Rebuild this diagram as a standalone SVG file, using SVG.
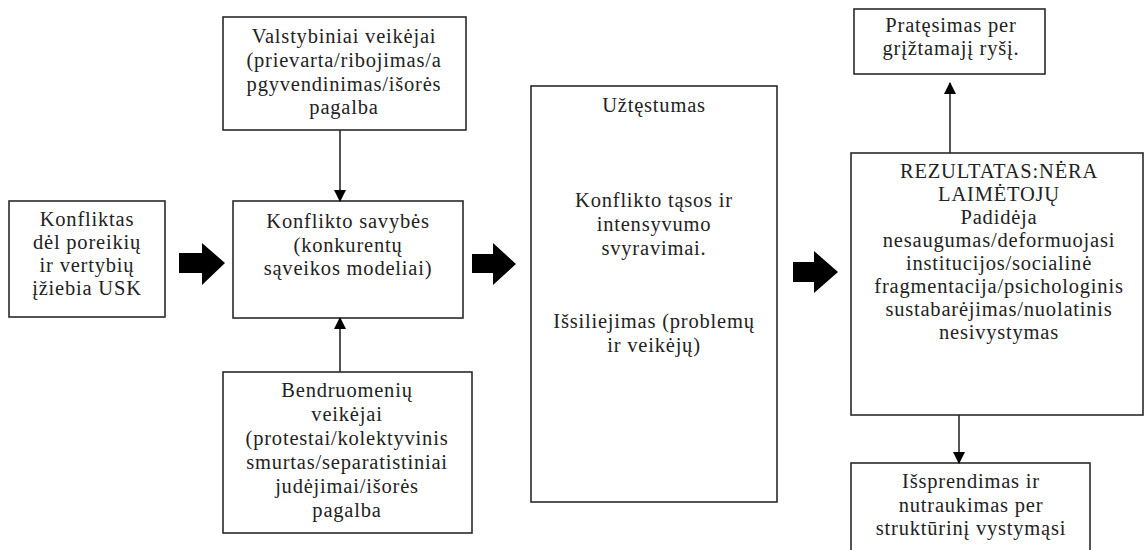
<svg xmlns="http://www.w3.org/2000/svg" width="1144" height="550" viewBox="0 0 1144 550">
<defs>
<style>
.box{fill:#fff;stroke:#2a2a2a;stroke-width:1.6}
.t{font-family:'Liberation Serif','DejaVu Serif',serif;font-size:20.5px;fill:#222;text-anchor:middle;letter-spacing:0.8px}
.ln{stroke:#2a2a2a;stroke-width:1.6;fill:none}
.blk{fill:#000}
</style>
<marker id="ah" markerWidth="12" markerHeight="12" refX="11" refY="6" orient="auto" markerUnits="userSpaceOnUse">
<path d="M0,0 L12,6 L0,12 Z" fill="#000"/>
</marker>
</defs>
<rect width="1144" height="550" fill="#fff"/>

<g id="n-konfliktas">
<rect class="box" x="9" y="201" width="156" height="116"/>
<text class="t" font-family="Liberation Serif, serif"><tspan x="87" y="226">Konfliktas</tspan><tspan x="87" y="249">dėl poreikių</tspan><tspan x="87" y="272">ir vertybių</tspan><tspan x="87" y="295">įžiebia USK</tspan></text>
</g>

<g id="n-valstybiniai">
<rect class="box" x="223" y="17" width="243" height="113"/>
<text class="t" font-family="Liberation Serif, serif"><tspan x="344" y="43">Valstybiniai veikėjai</tspan><tspan x="344" y="67">(prievarta/ribojimas/a</tspan><tspan x="344" y="91">pgyvendinimas/išorės</tspan><tspan x="344" y="114">pagalba</tspan></text>
</g>

<g id="n-savybes">
<rect class="box" x="233" y="201" width="230" height="117"/>
<text class="t" font-family="Liberation Serif, serif"><tspan x="348" y="228">Konflikto savybės</tspan><tspan x="348" y="252">(konkurentų</tspan><tspan x="348" y="275">sąveikos modeliai)</tspan></text>
</g>

<g id="n-bendruomeniu">
<rect class="box" x="223" y="372" width="249" height="161"/>
<text class="t" font-family="Liberation Serif, serif"><tspan x="347" y="397">Bendruomenių</tspan><tspan x="347" y="421">veikėjai</tspan><tspan x="347" y="445">(protestai/kolektyvinis</tspan><tspan x="347" y="469">smurtas/separatistiniai</tspan><tspan x="347" y="493">judėjimai/išorės</tspan><tspan x="347" y="517">pagalba</tspan></text>
</g>

<g id="n-uztestumas">
<rect class="box" x="531" y="86" width="246" height="416"/>
<text class="t" font-family="Liberation Serif, serif"><tspan x="654" y="112">Užtęstumas</tspan><tspan x="654" y="207">Konflikto tąsos ir</tspan><tspan x="654" y="231">intensyvumo</tspan><tspan x="654" y="255">svyravimai.</tspan><tspan x="654" y="328">Išsiliejimas (problemų</tspan><tspan x="654" y="352">ir veikėjų)</tspan></text>
</g>

<g id="n-pratesimas">
<rect class="box" x="854" y="9" width="191" height="65"/>
<text class="t" font-family="Liberation Serif, serif"><tspan x="951" y="32">Pratęsimas per</tspan><tspan x="951" y="55">grįžtamajį ryšį.</tspan></text>
</g>

<g id="n-rezultatas">
<rect class="box" x="851" y="153" width="292" height="262"/>
<text class="t" font-family="Liberation Serif, serif"><tspan x="999" y="178">REZULTATAS:NĖRA</tspan><tspan x="999" y="201">LAIMĖTOJŲ</tspan><tspan x="999" y="224">Padidėja</tspan><tspan x="999" y="247">nesaugumas/deformuojasi</tspan><tspan x="999" y="270">institucijos/socialinė</tspan><tspan x="999" y="293">fragmentacija/psichologinis</tspan><tspan x="999" y="316">sustabarėjimas/nuolatinis</tspan><tspan x="999" y="339">nesivystymas</tspan></text>
</g>

<g id="n-issprendimas">
<rect class="box" x="851" y="463" width="239" height="100"/>
<text class="t" font-family="Liberation Serif, serif"><tspan x="971" y="488">Išsprendimas ir</tspan><tspan x="971" y="512">nutraukimas per</tspan><tspan x="971" y="535">struktūrinį vystymąsi</tspan></text>
</g>

<g id="connectors">
<path class="blk" d="M179,253 H202 V243 L225,263 L202,285 V273 H179 Z"/>
<path class="blk" d="M472,254 H493 V243 L516,264 L493,285 V273 H472 Z"/>
<path class="blk" d="M793,262 H814 V251 L838,272 L814,293 V282 H793 Z"/>
<line class="ln" x1="340" y1="130" x2="340" y2="201" marker-end="url(#ah)"/>
<line class="ln" x1="340" y1="372" x2="340" y2="318" marker-end="url(#ah)"/>
<line class="ln" x1="950" y1="153" x2="950" y2="83" marker-end="url(#ah)"/>
<line class="ln" x1="959" y1="415" x2="959" y2="463" marker-end="url(#ah)"/>
</g>
</svg>
